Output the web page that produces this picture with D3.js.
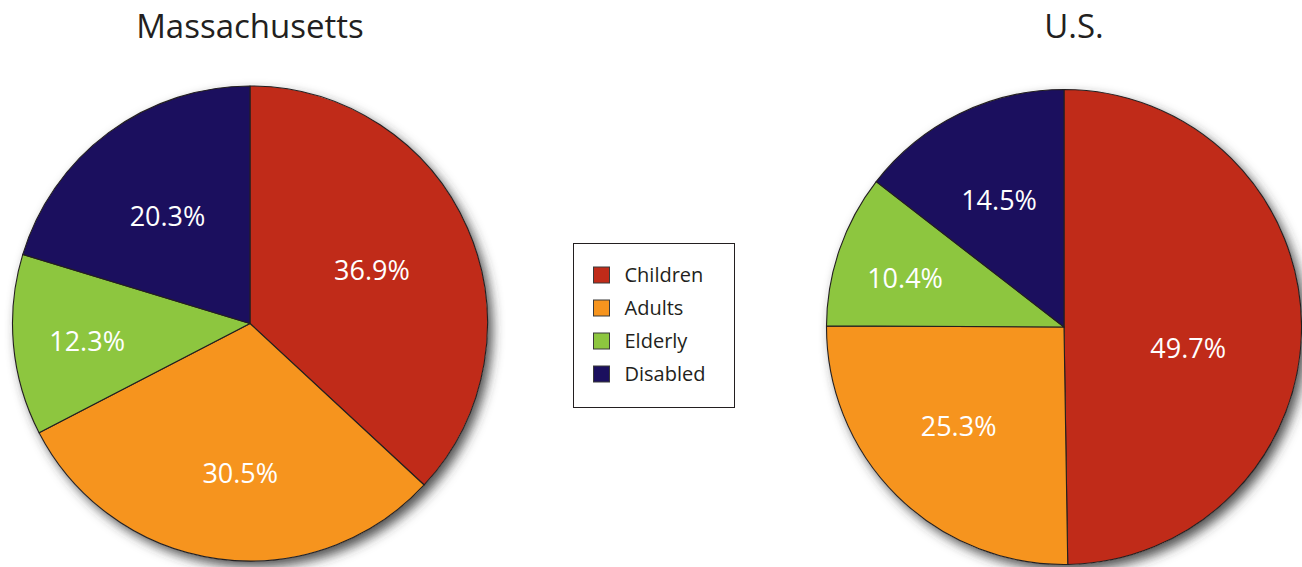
<!DOCTYPE html>
<html>
<head>
<meta charset="utf-8">
<script src="https://cdn.jsdelivr.net/npm/d3@7"></script>
<style>
  html, body { margin: 0; padding: 0; background: #ffffff; }
  svg { display: block; }
</style>
</head>
<body>
<svg id="chart" width="1302" height="567"></svg>
<script>
// Share of enrollees by eligibility group
const categories = ["Children", "Adults", "Elderly", "Disabled"];
const massachusettsValues = [36.9, 30.5, 12.3, 20.3];
const usValues = [49.7, 25.3, 10.4, 14.5];
const pieTitles = ["Massachusetts", "U.S."];

const colors = ["#c02b19", "#f6941e", "#8dc63f", "#1b0f5e"];

// Layout
const radius = 237.5;
const pies = [
  { title: pieTitles[0], values: massachusettsValues, cx: 250, cy: 323.5, titleX: 250,
    labelR: [0.56, 0.63, 0.69, 0.57], labelTurn: [0, -4, -1, -1] },
  { title: pieTitles[1], values: usValues, cx: 1064, cy: 327, titleX: 1074,
    labelR: [0.53, 0.61, 0.70, 0.60], labelTurn: [10, 2, -2, -1] }
];

const svg = d3.select("#chart");

// Soft drop shadow under each pie
const defs = svg.append("defs");
const shadow = defs.append("filter").attr("id", "pieShadow")
  .attr("x", "-10%").attr("y", "-10%").attr("width", "125%").attr("height", "125%");
shadow.append("feDropShadow")
  .attr("dx", 5).attr("dy", 6).attr("stdDeviation", 6)
  .attr("flood-color", "#303030").attr("flood-opacity", 0.85);

const pieGen = d3.pie().sort(null).value(d => d).startAngle(0).endAngle(2 * Math.PI);
const arcGen = d3.arc().innerRadius(0).outerRadius(radius);

pies.forEach(p => {
  const g = svg.append("g").attr("transform", `translate(${p.cx},${p.cy})`);
  const arcs = pieGen(p.values);

  // shadow disc
  g.append("circle").attr("r", radius).attr("fill", "#ffffff")
    .attr("filter", "url(#pieShadow)");

  g.selectAll("path.slice").data(arcs).enter().append("path")
    .attr("class", "slice")
    .attr("d", arcGen)
    .attr("fill", (d, i) => colors[i])
    .attr("stroke", "#231f20")
    .attr("stroke-width", 1.1)
    .attr("stroke-linejoin", "round");

  g.selectAll("text.val").data(arcs).enter().append("text")
    .attr("class", "val")
    .attr("transform", (d, i) => {
      const a = (d.startAngle + d.endAngle) / 2 + p.labelTurn[i] * Math.PI / 180;
      const r = radius * p.labelR[i];
      return `translate(${r * Math.sin(a)},${-r * Math.cos(a)})`;
    })
    .attr("text-anchor", "middle")
    .attr("dy", "0.36em")
    .attr("fill", "#ffffff")
    .style("font-family", "'Open Sans', sans-serif")
    .style("font-size", "27px")
    .text(d => d.data.toFixed(1) + "%");

  svg.append("text")
    .attr("x", p.titleX).attr("y", 38)
    .attr("text-anchor", "middle")
    .attr("fill", "#231f20")
    .style("font-family", "'Open Sans', sans-serif")
    .style("font-size", "33px")
    .text(p.title);
});

// Legend
const legend = svg.append("g").attr("transform", "translate(573.5,243.5)");
legend.append("rect").attr("width", 161).attr("height", 164)
  .attr("fill", "#ffffff").attr("stroke", "#231f20").attr("stroke-width", 1);
const item = legend.selectAll("g.item").data(categories).enter().append("g")
  .attr("class", "item")
  .attr("transform", (d, i) => `translate(20,${31.5 + i * 33})`);
item.append("rect").attr("y", -8).attr("width", 16).attr("height", 16)
  .attr("fill", (d, i) => colors[i]).attr("stroke", "#3a3a3a").attr("stroke-width", 1);
item.append("text").attr("x", 31).attr("dy", "0.35em")
  .attr("fill", "#231f20")
  .style("font-family", "'Open Sans', sans-serif")
  .style("font-size", "20px")
  .text(d => d);
</script>
</body>
</html>
